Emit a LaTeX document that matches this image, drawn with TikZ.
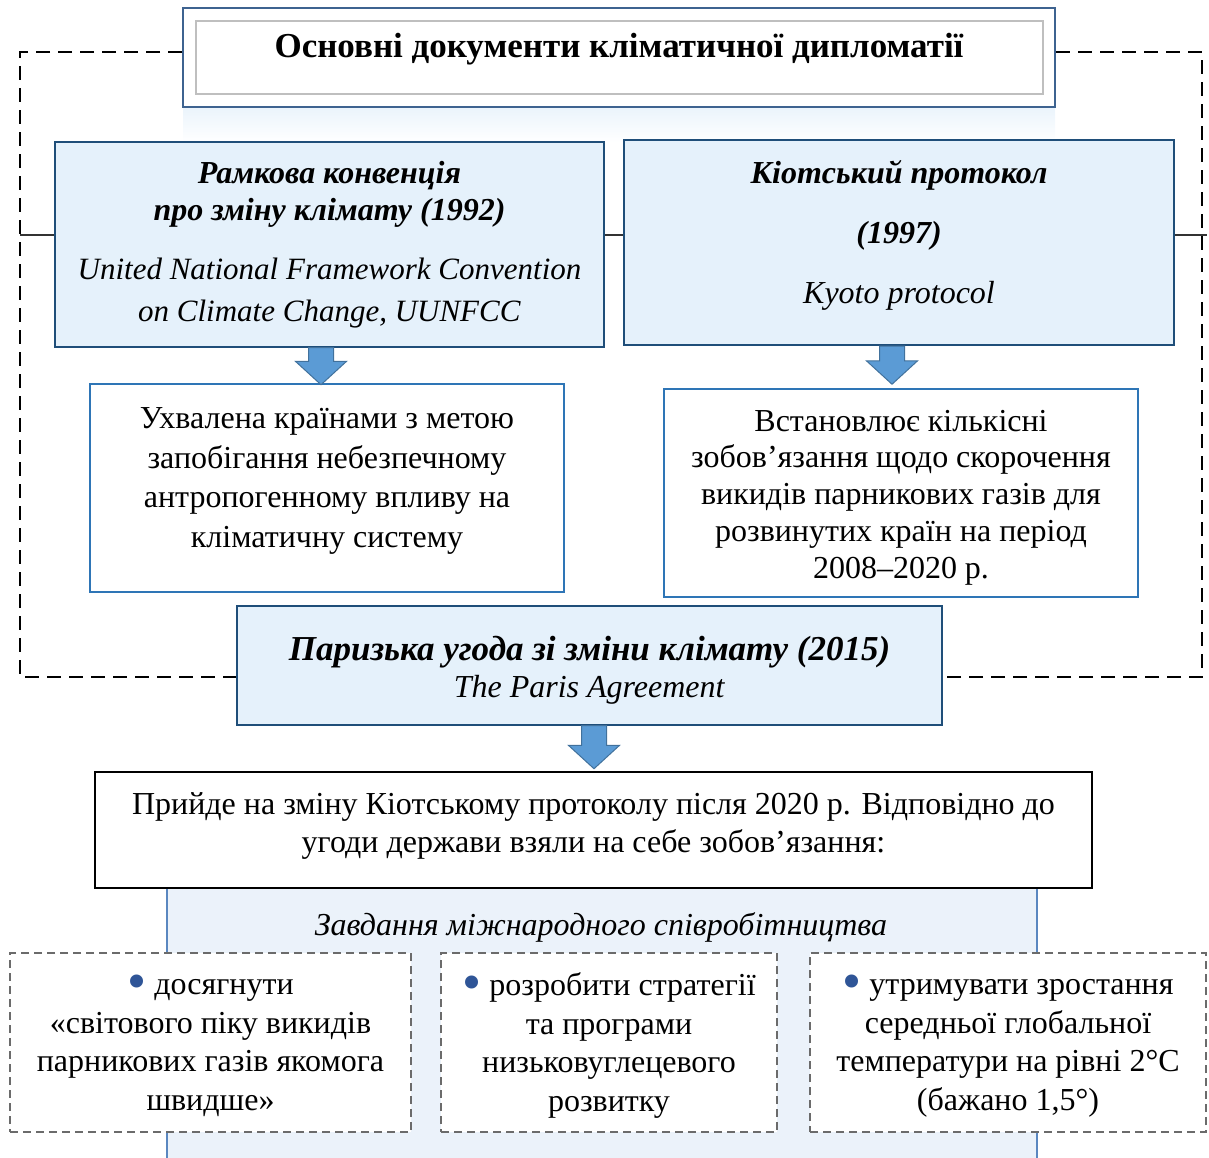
\documentclass[tikz,border=0pt]{standalone}
\usepackage{fontspec}
\setmainfont{Liberation Serif}
\usetikzlibrary{shapes.arrows}

\definecolor{docfill}{HTML}{E5F1FB}
\definecolor{docline}{HTML}{1F4E79}
\definecolor{noteline}{HTML}{2E75B6}
\definecolor{arrfill}{HTML}{5B9BD5}
\definecolor{arrline}{HTML}{41719C}
\definecolor{panelfill}{HTML}{EBF2FA}
\definecolor{panelline}{HTML}{5A87C0}
\definecolor{taskline}{HTML}{6B6B6B}
\definecolor{dotblue}{HTML}{2F5597}
\definecolor{titleline}{HTML}{3E6390}

\newcommand{\taskdot}{\raisebox{-0.17em}{\textcolor{dotblue}{\scalebox{1.7}{\textbullet}}}}

\tikzset{
  titlebox/.style={draw=titleline, line width=2pt, fill=white, inner sep=0pt,
    minimum width=872pt, minimum height=99pt, font=\fontsize{35}{37}\selectfont\bfseries},
  docbox/.style={draw=docline, line width=2pt, fill=docfill, align=center, inner sep=0pt},
  notebox/.style={draw=noteline, line width=2pt, fill=white, align=center, inner sep=0pt,
    minimum width=474pt, minimum height=208pt},
  taskbox/.style={draw=taskline, line width=1.6pt, dash pattern=on 8pt off 5pt, fill=white,
    align=center, inner sep=0pt, minimum height=179pt, font=\fontsize{32}{38.5}\selectfont},
  blockarr/.style={single arrow, draw=arrline, fill=arrfill, line width=1pt, inner sep=12pt,
    shape border rotate=270, single arrow head extend=13pt, single arrow tip angle=95},
  frameline/.style={line width=2.5pt, dash pattern=on 14pt off 8pt},
}

\begin{document}
\begin{tikzpicture}[x=1pt,y=-1pt]
\useasboundingbox (0,0) rectangle (1209,1157);

% background panel and title reflection
\fill[panelfill] (167,888) rectangle (1037,1160);
\draw[panelline, line width=1.2pt] (167,888) -- (167,1160) (1037,888) -- (1037,1160);
\shade[top color=docfill!80, bottom color=white] (183,107) rectangle (1055,142);

% title
\node[titlebox, text height=0pt, text depth=0pt] (title) at (619,57.5) {Основні документи кліматичної дипломатії};
\draw[black!25, line width=1.2pt] ([shift={(14,14)}]title.north west) rectangle ([shift={(-13,-14)}]title.south east);

% documents
\node[docbox, minimum width=549pt, minimum height=205pt, font=\fontsize{32}{37}\selectfont] (ramk) at (329.5,244.5)
  {\textbf{\textit{Рамкова конвенція}}\\\textbf{\textit{про зміну клімату (1992)}}\\[22pt]
   \textit{\fontsize{31}{37}\selectfont United National Framework Convention}\\[5pt]\textit{\fontsize{31}{37}\selectfont on Climate Change, UUNFCC}};
\node[docbox, minimum width=550pt, minimum height=205pt, font=\fontsize{32}{37}\selectfont,
  text height=121pt, text depth=0pt] (kyoto) at (899,242.5)
  {\textbf{\textit{Кіотський протокол}}\\[23pt]\textbf{\textit{(1997)}}\\[23pt]\textit{Kyoto protocol}};

\node[notebox, font=\fontsize{32}{39.5}\selectfont, text height=118pt, text depth=0pt] (ramknote) at (327,488)
  {Ухвалена країнами з метою\\запобігання небезпечному\\антропогенному впливу на\\кліматичну систему};
\node[notebox, font=\fontsize{32}{36.75}\selectfont, text height=170pt, text depth=0pt] (kyotonote) at (901,493)
  {Встановлює кількісні\\зобов’язання щодо скорочення\\викидів парникових газів для\\розвинутих країн на період\\2008–2020 р.};

\node[blockarr, minimum height=37pt] (arrramk) at (321,360.5) {};
\node[blockarr, minimum height=38pt] (arrkyoto) at (892,359.5) {};

% Paris agreement
\node[docbox, minimum width=705pt, minimum height=119pt, font=\fontsize{32}{37}\selectfont,
  text height=63pt, text depth=0pt] (paris) at (589.5,665.5)
  {{\fontsize{35}{37}\selectfont\textbf{\textit{Паризька угода зі зміни клімату (2015)}}}\\\textit{The Paris Agreement}};
\node[blockarr, minimum height=43pt] (arrparis) at (594,741.5) {};

\draw[frameline] (title.west |- 0,52) -| (20,677) -- (paris.west |- 0,677);
\draw[frameline] (title.east |- 0,52) -| (1202,677) -- (paris.east |- 0,677);
\draw[black!80, line width=1.2pt] (20,235) -- (ramk.west |- 0,235)
  (ramk.east |- 0,235) -- (kyoto.west |- 0,235) (kyoto.east |- 0,235) -- (1207,235);

\node[draw=black, line width=2.4pt, fill=white, align=center, inner sep=0pt, minimum width=997pt, minimum height=116pt,
  font=\fontsize{32}{38}\selectfont, text height=44pt, text depth=0pt] (after) at (593.5,830)
  {Прийде на зміну Кіотському протоколу після 2020 р. Відповідно до\\угоди держави взяли на себе зобов’язання:};

% tasks
\node[font=\fontsize{32}{37}\selectfont\itshape, inner sep=0pt] (tasks) at (601,927) {Завдання міжнародного співробітництва};
\node[taskbox, minimum width=401pt, text height=135pt, text depth=0pt] (task1) at (210.5,1042.5)
  {\taskdot{} досягнути\\«світового піку викидів\\парникових газів якомога\\швидше»};
\node[taskbox, minimum width=336pt, text height=137pt, text depth=0pt] (task2) at (609,1042.5)
  {\taskdot{} розробити стратегії\\та програми\\низьковуглецевого\\розвитку};
\node[taskbox, minimum width=396pt, text height=135pt, text depth=0pt] (task3) at (1008,1042.5)
  {\taskdot{} утримувати зростання\\середньої глобальної\\температури на рівні 2°C\\(бажано 1,5°)};
\end{tikzpicture}
\end{document}
